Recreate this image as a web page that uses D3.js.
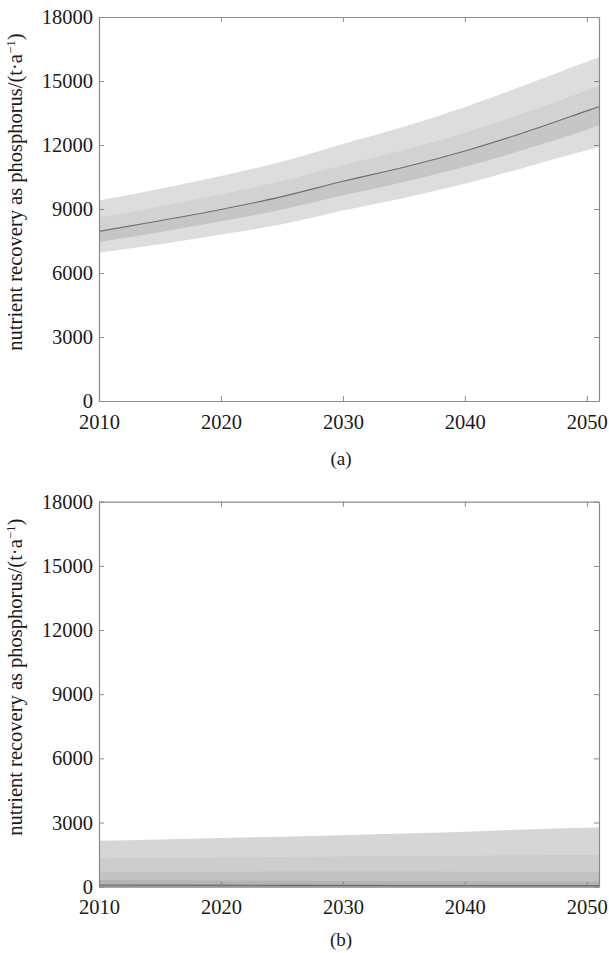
<!DOCTYPE html>
<html>
<head>
<meta charset="utf-8">
<script src="https://cdn.jsdelivr.net/npm/d3@7"></script>
<style>
  body { margin: 0; background: #fff; }
  svg { display: block; }
  svg text { font-family: "Liberation Serif", "Times New Roman", "DejaVu Serif", serif !important; fill: #1a1a1a; }
</style>
</head>
<body>
<div id="chart"></div>
<script>
// years sampled along the x axis
const years = [2010, 2015, 2020, 2025, 2030, 2035, 2040, 2045, 2050, 2051];

// (a) fan of quantiles
const aP95 = [9400, 9950, 10550, 11220, 12050, 12850, 13780, 14820, 15900, 16100];
const aP75 = [8600, 9120, 9680, 10310, 11050, 11760, 12580, 13520, 14550, 14760];
const aP50 = [7950, 8450, 8980, 9580, 10300, 10960, 11720, 12610, 13600, 13800];
const aP25 = [7450, 7920, 8420, 8980, 9640, 10270, 10980, 11810, 12720, 12910];
const aP5  = [6950, 7350, 7800, 8280, 8930, 9520, 10180, 10960, 11750, 11900];

// (b) fan, stacked from 0 upward
const bTop  = [2150, 2210, 2280, 2340, 2410, 2490, 2570, 2680, 2760, 2780];
const bL3   = [1330, 1350, 1370, 1390, 1410, 1430, 1450, 1470, 1480, 1485];
const bL2   = [700, 700, 700, 705, 705, 705, 700, 700, 700, 700];
const bL1   = [310, 300, 290, 280, 270, 260, 250, 240, 235, 234];
const bMed  = [80, 75, 70, 65, 60, 55, 55, 50, 48, 47];

const xTicks = [2010, 2020, 2030, 2040, 2050];
const yTicks = [0, 3000, 6000, 9000, 12000, 15000, 18000];
const yLabelMain = "nutrient recovery as phosphorus/(t·a";

const W = 609, H = 953;
const left = 99, right = 599;
const panels = [
  {top: 17, bottom: 401, caption: "(a)", capY: 465},
  {top: 501.7, bottom: 886.7, caption: "(b)", capY: 946}
];

const svg = d3.select("#chart").append("svg")
  .attr("width", W).attr("height", H);

const x = d3.scaleLinear().domain([2010, 2051]).range([left, right]);

function drawAxes(g, y, p) {
  const ac = "#8a8a8a";
  const bx = g.append("g").attr("transform", `translate(0,${p.bottom})`)
    .call(d3.axisBottom(x).tickValues(xTicks).tickFormat(d3.format("d"))
      .tickSizeInner(-5).tickSizeOuter(0).tickPadding(13));
  const tx = g.append("g").attr("transform", `translate(0,${p.top})`)
    .call(d3.axisTop(x).tickValues(xTicks).tickFormat("")
      .tickSizeInner(-5).tickSizeOuter(0));
  const ly = g.append("g").attr("transform", `translate(${left},0)`)
    .call(d3.axisLeft(y).tickValues(yTicks).tickFormat(d3.format("d"))
      .tickSizeInner(-5).tickSizeOuter(0).tickPadding(6));
  const ry = g.append("g").attr("transform", `translate(${right},0)`)
    .call(d3.axisRight(y).tickValues(yTicks).tickFormat("")
      .tickSizeInner(-5).tickSizeOuter(0));
  [bx, tx, ly, ry].forEach(a => {
    a.attr("font-family", null);
    a.select(".domain").attr("stroke", ac).attr("stroke-width", 1.2);
    a.selectAll(".tick line").attr("stroke", ac);
    a.selectAll(".tick text").style("font-size", "20.5px");
  });

  g.append("text")
    .attr("transform", `translate(22,${(p.top + p.bottom) / 2 - 17}) rotate(-90)`)
    .attr("text-anchor", "middle")
    .style("font-size", "20.5px")
    .call(t => {
      t.append("tspan").text(yLabelMain);
      t.append("tspan").attr("baseline-shift", "super").style("font-size", "13px").text("−1");
      t.append("tspan").text(")");
    });

  g.append("text")
    .attr("x", (left + right) / 2 - 8)
    .attr("y", p.capY)
    .attr("text-anchor", "middle")
    .style("font-size", "19px")
    .text(p.caption);
}

function band(g, y, lo, hi, fill) {
  const area = d3.area().curve(d3.curveMonotoneX)
    .x((d, i) => x(years[i]))
    .y0((d, i) => y(lo[i]))
    .y1((d, i) => y(hi[i]));
  g.append("path").datum(years).attr("d", area).attr("fill", fill);
}

function medLine(g, y, vals, color, w) {
  const line = d3.line().curve(d3.curveMonotoneX)
    .x((d, i) => x(years[i]))
    .y((d, i) => y(vals[i]));
  g.append("path").datum(years).attr("d", line)
    .attr("fill", "none").attr("stroke", color).attr("stroke-width", w);
}

// panel (a)
{
  const p = panels[0];
  const y = d3.scaleLinear().domain([0, 18000]).range([p.bottom, p.top]);
  const g = svg.append("g");
  band(g, y, aP5, aP95, "#dddddd");
  band(g, y, aP25, aP75, "#d2d2d2");
  band(g, y, aP25, aP50, "#c6c6c6");
  medLine(g, y, aP50, "#6e6e6e", 1.1);
  drawAxes(g, y, p);
}

// panel (b)
{
  const p = panels[1];
  const y = d3.scaleLinear().domain([0, 18000]).range([p.bottom, p.top]);
  const g = svg.append("g");
  const zero = years.map(() => 0);
  band(g, y, zero, bTop, "#d6d6d6");
  band(g, y, zero, bL3, "#cdcdcd");
  band(g, y, zero, bL2, "#c2c2c2");
  band(g, y, zero, bL1, "#b4b4b4");
  band(g, y, zero, bMed, "#a0a0a0");
  medLine(g, y, bMed, "#6a6a6a", 1.2);
  drawAxes(g, y, p);
}
</script>
</body>
</html>
